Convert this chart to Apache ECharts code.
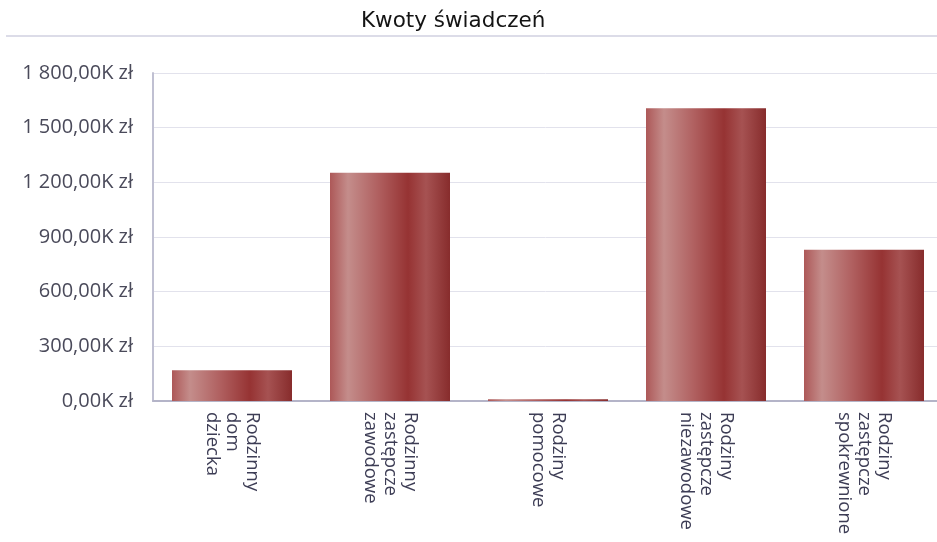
<!DOCTYPE html>
<html>
<head>
<meta charset="utf-8">
<script src="https://cdn.jsdelivr.net/npm/echarts@6/dist/echarts.min.js"></script>
<style>html,body{margin:0;padding:0;background:#fff}#c{width:937px;height:542px}</style>
</head>
<body>
<div id="c"></div>
<script>
const titleText = 'Kwoty świadczeń';
const categories = ['Rodzinny dom dziecka', 'Rodzinny zastępcze zawodowe', 'Rodziny pomocowe', 'Rodziny zastępcze niezawodowe', 'Rodziny zastępcze spokrewnione'];
const values = [169000, 1253000, 10000, 1606000, 830000];
const yMin = 0, yMax = 1800000, yInterval = 300000;

function fmtK(v) {
  const k = (v / 1000).toFixed(2).split('.');
  const intPart = k[0].replace(/\B(?=(\d{3})+(?!\d))/g, ' ');
  return intPart + ',' + k[1] + 'K zł';
}

const chart = echarts.init(document.getElementById('c'), null, {renderer: 'canvas'});
chart.setOption({
  animation: false,
  title: {
    text: titleText, left: 356, top: 5,
    textStyle: {fontFamily: 'DejaVu Sans', fontSize: 21.5, fontWeight: 'normal', color: '#141414'}
  },
  graphic: [{
    type: 'rect', shape: {x: 6, y: 35, width: 940, height: 2},
    style: {fill: '#dcdce8'}, silent: true
  }],
  grid: {left: 153, width: 790, top: 73, bottom: 141, outerBoundsMode: 'none'},
  xAxis: {
    type: 'category', data: categories,
    axisLine: {lineStyle: {color: '#b4b4c8', width: 2}},
    axisTick: {show: false},
    axisLabel: {
      rotate: -90, margin: 11, interval: 0,
      fontFamily: 'Open Sans', fontSize: 18.5, lineHeight: 20, color: '#3d3d55',
      formatter: s => s.split(' ').join('\n')
    }
  },
  yAxis: {
    type: 'value', min: yMin, max: yMax, interval: yInterval,
    axisLine: {show: true, lineStyle: {color: '#c0c0d2', width: 2}},
    splitLine: {lineStyle: {color: '#e2e2ec', width: 1}},
    axisLabel: {fontFamily: 'Open Sans', fontSize: 20, color: '#4a4a5a', margin: 20, formatter: fmtK}
  },
  series: [{
    type: 'bar', data: values, barWidth: 120,
    itemStyle: {
      color: new echarts.graphic.LinearGradient(0, 0, 1, 0, [
        {offset: 0, color: '#ad5858'},
        {offset: 0.15, color: '#c48d8b'},
        {offset: 0.4, color: '#b06060'},
        {offset: 0.65, color: '#963333'},
        {offset: 0.8, color: '#a65252'},
        {offset: 1, color: '#872c2c'}
      ])
    }
  }]
});
</script>
</body>
</html>
